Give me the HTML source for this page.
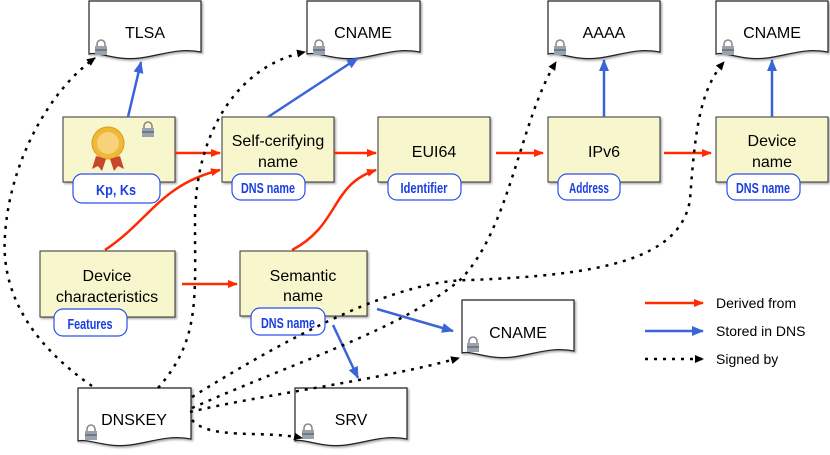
<!DOCTYPE html>
<html><head><style>
body{margin:0;background:#fff;}
svg{display:block;font-family:"Liberation Sans",sans-serif;}
.pill{font-family:"Liberation Sans Narrow","Liberation Sans",sans-serif;fill:#1a3fe0;font-size:15px;font-weight:bold;}
</style></head><body>
<svg width="830" height="455" viewBox="0 0 830 455" xmlns="http://www.w3.org/2000/svg">
<defs>
<filter id="sh" x="-10%" y="-10%" width="130%" height="130%"><feDropShadow dx="1.5" dy="1.5" stdDeviation="1" flood-color="#000" flood-opacity="0.35"/></filter>
<marker id="ar" markerWidth="10" markerHeight="8" refX="9" refY="4" orient="auto" markerUnits="userSpaceOnUse"><path d="M0,0 L10,4 L0,8 z" fill="#ff2a00"/></marker>
<marker id="ab" markerWidth="12" markerHeight="10" refX="11" refY="5" orient="auto" markerUnits="userSpaceOnUse"><path d="M0,0 L12,5 L0,10 z" fill="#3a64d8"/></marker>
<marker id="ak" markerWidth="9" markerHeight="8" refX="8" refY="4" orient="auto" markerUnits="userSpaceOnUse"><path d="M0,0 L9,4 L0,8 z" fill="#000"/></marker>
<g id="lock"><path d="M2,6 v-2 a4,4 0 0 1 8,0 v2" fill="none" stroke="#888" stroke-width="1.6"/><rect x="0" y="6" width="12" height="9" fill="#9aa3ad"/><rect x="0" y="9" width="12" height="2" fill="#6f7a86"/></g>
</defs>

<g stroke="#222" stroke-width="1.2" fill="#fff" filter="url(#sh)">
<path d="M89,1 H201 V52 C170,46 150,62 120,58 C105,56 95,52 89,54 Z"/>
<path d="M307,1 H420 V52 C389,46 369,62 339,58 C324,56 314,52 307,54 Z"/>
<path d="M548,1 H660 V52 C629,46 609,62 579,58 C564,56 554,52 548,54 Z"/>
<path d="M716,1 H828 V52 C797,46 777,62 747,58 C732,56 722,52 716,54 Z"/>
<path d="M462,300 H574 V351 C543,345 523,361 493,357 C478,355 468,351 462,353 Z"/>
<path d="M78,388 H191 V439 C160,433 140,449 110,445 C95,443 85,439 78,441 Z"/>
<path d="M295,388 H407 V439 C376,433 356,449 326,445 C311,443 301,439 295,441 Z"/>
</g>
<g font-size="16" text-anchor="middle" fill="#000">
<text x="145" y="38">TLSA</text><text x="363" y="38">CNAME</text><text x="604" y="38">AAAA</text>
<text x="772" y="38">CNAME</text><text x="518" y="338">CNAME</text><text x="134" y="425">DNSKEY</text><text x="351" y="425">SRV</text>
</g>
<use href="#lock" x="95" y="40"/><use href="#lock" x="313" y="40"/><use href="#lock" x="554" y="40"/><use href="#lock" x="722" y="40"/>
<use href="#lock" x="467" y="337"/><use href="#lock" x="85" y="425"/><use href="#lock" x="302" y="424"/>

<g fill="#f8f6cc" stroke="#333" stroke-width="1" filter="url(#sh)">
<rect x="63" y="117" width="112" height="65"/>
<rect x="222" y="117" width="112" height="65"/>
<rect x="378" y="117" width="112" height="65"/>
<rect x="548" y="117" width="112" height="65"/>
<rect x="716" y="117" width="112" height="65"/>
<rect x="40" y="251" width="135" height="66"/>
<rect x="240" y="251" width="127" height="65"/>
</g>
<use href="#lock" x="142" y="122"/>
<circle cx="108" cy="143" r="16" fill="#f0b935" stroke="#d99a20"/><circle cx="108" cy="143" r="11" fill="#f6d27a"/>
<path d="M96,156 l-4,13 6,-3 4,5 4,-12z M120,156 l4,13 -6,-3 -4,5 -4,-12z" fill="#c8462a"/>
<g font-size="16" text-anchor="middle" fill="#000">
<text x="278" y="146">Self-cerifying</text><text x="278" y="167">name</text>
<text x="434" y="157">EUI64</text><text x="604" y="157">IPv6</text>
<text x="772" y="146">Device</text><text x="772" y="167">name</text>
<text x="107" y="281">Device</text><text x="107" y="302">characteristics</text>
<text x="303" y="281">Semantic</text><text x="303" y="301">name</text>
</g>
<g fill="#fff" stroke="#2a4ff0" stroke-width="1.2">
<rect x="73" y="174" width="87" height="29" rx="9"/>
<rect x="232" y="174" width="73" height="26" rx="9"/>
<rect x="388" y="174" width="73" height="26" rx="9"/>
<rect x="558" y="174" width="62" height="26" rx="9"/>
<rect x="727" y="174" width="73" height="26" rx="9"/>
<rect x="54" y="309" width="73" height="27" rx="9"/>
<rect x="251" y="308" width="74" height="27" rx="9"/>
</g>
<g class="pill" text-anchor="middle">
<text x="116" y="195" textLength="40" lengthAdjust="spacingAndGlyphs">Kp, Ks</text>
<text x="268" y="193" textLength="54" lengthAdjust="spacingAndGlyphs">DNS name</text>
<text x="424" y="193" textLength="47" lengthAdjust="spacingAndGlyphs">Identifier</text>
<text x="589" y="193" textLength="40" lengthAdjust="spacingAndGlyphs">Address</text>
<text x="763" y="193" textLength="54" lengthAdjust="spacingAndGlyphs">DNS name</text>
<text x="90" y="329" textLength="45" lengthAdjust="spacingAndGlyphs">Features</text>
<text x="288" y="328" textLength="54" lengthAdjust="spacingAndGlyphs">DNS name</text>
</g>

<g stroke="#ff2a00" stroke-width="2.5" fill="none" marker-end="url(#ar)">
<line x1="175" y1="153" x2="220" y2="153"/>
<line x1="334" y1="153" x2="376" y2="153"/>
<line x1="496" y1="153" x2="543" y2="153"/>
<line x1="664" y1="153" x2="711" y2="153"/>
<line x1="182" y1="284" x2="237" y2="284"/>
<path d="M105,250 C150,220 160,185 220,170"/>
<path d="M292,250 C340,225 330,185 376,170"/>
</g>
<g stroke="#3a64d8" stroke-width="2.5" fill="none" marker-end="url(#ab)">
<line x1="128" y1="117" x2="141" y2="62"/>
<line x1="268" y1="117" x2="358" y2="58"/>
<line x1="604" y1="117" x2="604" y2="60"/>
<line x1="772" y1="117" x2="772" y2="60"/>
<line x1="377" y1="309" x2="453" y2="331"/>
<line x1="333" y1="325" x2="358" y2="378"/>
</g>
<g stroke="#000" stroke-width="2.5" fill="none" stroke-dasharray="3,6" marker-end="url(#ak)">
<path d="M92,386 C40,350 0,300 5,235 C10,160 50,90 95,58"/>
<path d="M158,388 C200,340 195,300 195,220 C195,130 240,65 305,52"/>
<path d="M192,408 C300,360 400,330 460,280 C510,230 520,120 556,62"/>
<path d="M192,397 C300,330 400,280 470,280 C600,275 680,260 690,200 C695,130 700,90 724,62"/>
<path d="M190,412 C260,395 380,380 459,358"/>
<path d="M192,420 C210,440 260,430 302,438"/>
</g>
<line x1="645" y1="303" x2="703" y2="303" stroke="#ff2a00" stroke-width="2.5" marker-end="url(#ar)"/>
<line x1="645" y1="331" x2="703" y2="331" stroke="#3a64d8" stroke-width="2.5" marker-end="url(#ab)"/>
<line x1="645" y1="359" x2="703" y2="359" stroke="#000" stroke-width="2.5" stroke-dasharray="3,6" marker-end="url(#ak)"/>
<g font-size="14" fill="#000">
<text x="716" y="308">Derived from</text><text x="716" y="336">Stored in DNS</text><text x="716" y="364">Signed by</text>
</g>
</svg>
</body></html>
